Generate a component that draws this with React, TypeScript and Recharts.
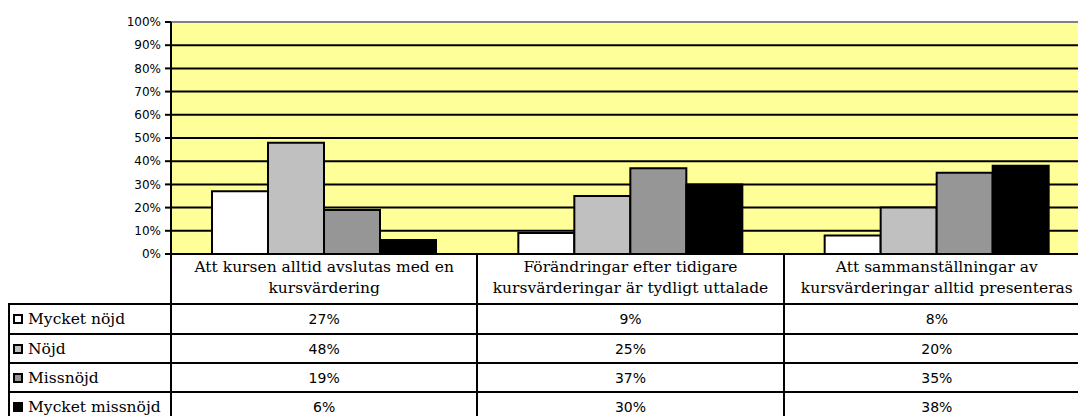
import React from 'react';
import { Bar, BarChart, CartesianGrid, ReferenceLine, XAxis, YAxis } from 'recharts';

// categories (x axis / table header), '\n' marks the line break in the header
const categories = [
  'Att kursen alltid avslutas med en\nkursvärdering',
  'Förändringar efter tidigare\nkursvärderingar är tydligt uttalade',
  'Att sammanställningar av\nkursvärderingar alltid presenteras',
];

// series values in percent
const mycketNojd = [27, 9, 8];
const nojd = [48, 25, 20];
const missnojd = [19, 37, 35];
const mycketMissnojd = [6, 30, 38];

const yTicks = [0, 10, 20, 30, 40, 50, 60, 70, 80, 90, 100];

const series = [
  { key: 'mycketNojd', name: 'Mycket nöjd', values: mycketNojd, color: '#FFFFFF' },
  { key: 'nojd', name: 'Nöjd', values: nojd, color: '#C0C0C0' },
  { key: 'missnojd', name: 'Missnöjd', values: missnojd, color: '#969696' },
  { key: 'mycketMissnojd', name: 'Mycket missnöjd', values: mycketMissnojd, color: '#000000' },
];

const data = categories.map((name, i) => {
  const row: Record<string, string | number> = { name };
  series.forEach((s) => {
    row[s.key] = s.values[i];
  });
  return row;
});

const AXIS_W = 163;
const PLOT_W = 919;
const COL_W = PLOT_W / categories.length;
const rowTops = [246, 296, 326, 355, 384, 414];

const serif = '"DejaVu Serif", serif';
const sans = '"DejaVu Sans", sans-serif';

const cell = (left: number, top: number, width: number, height: number): React.CSSProperties => ({
  position: 'absolute',
  left: left - 1,
  top: top - 1,
  width: width + 2,
  height: height + 2,
  boxSizing: 'border-box',
  border: '2px solid #000',
  background: '#fff',
  display: 'flex',
  alignItems: 'center',
});

const App = () => {
  return (
    // fixed frame the size of the window, so nothing can scroll
    <div
      style={{
        position: 'fixed',
        left: 0,
        top: 0,
        width: 1078,
        height: 416,
        overflow: 'hidden',
        background: '#fff',
      }}
    >
      <div style={{ position: 'absolute', left: 8, top: 8, width: AXIS_W + PLOT_W, height: 430 }}>
        <BarChart
          width={AXIS_W + PLOT_W}
          height={262}
          data={data}
          margin={{ top: 14, right: 0, bottom: 16, left: 0 }}
          barGap={0}
          barCategoryGap={41}
        >
          <CartesianGrid vertical={false} stroke="#000" strokeWidth={2} fill="#FFFF99" fillOpacity={1} />
          <ReferenceLine y={100} stroke="#808080" strokeWidth={2} />
          <XAxis dataKey="name" hide />
          <YAxis
            width={AXIS_W}
            domain={[0, 100]}
            ticks={yTicks}
            interval={0}
            tickFormatter={(v) => `${v}%`}
            tick={{ fontSize: 12, fontFamily: sans, fill: '#000' }}
            tickSize={6}
            tickMargin={4}
            tickLine={{ stroke: '#000', strokeWidth: 2 }}
            axisLine={{ stroke: '#000', strokeWidth: 2 }}
          />
          {series.map((s) => (
            <Bar key={s.key} dataKey={s.key} fill={s.color} stroke="#000" strokeWidth={2} isAnimationActive={false} />
          ))}
        </BarChart>

        {/* data table under the plot */}
        {categories.map((c, i) => (
          <div
            key={c}
            style={{
              ...cell(AXIS_W + i * COL_W, rowTops[0], COL_W, rowTops[1] - rowTops[0]),
              justifyContent: 'center',
              alignItems: 'flex-start',
              paddingTop: 2,
              fontFamily: serif,
              fontSize: 15.5,
              lineHeight: '21px',
              textAlign: 'center',
              whiteSpace: 'pre',
            }}
          >
            {c}
          </div>
        ))}
        {series.map((s, r) => (
          <React.Fragment key={s.key}>
            <div
              style={{
                ...cell(1, rowTops[r + 1], AXIS_W - 1, rowTops[r + 2] - rowTops[r + 1]),
                fontFamily: serif,
                fontSize: 15.5,
                paddingLeft: 3,
                whiteSpace: 'nowrap',
              }}
            >
              <span
                style={{
                  display: 'inline-block',
                  width: 10,
                  height: 10,
                  boxSizing: 'border-box',
                  border: '2px solid #000',
                  background: s.color,
                  marginRight: 5,
                }}
              />
              {s.name}
            </div>
            {s.values.map((v, i) => (
              <div
                key={i}
                style={{
                  ...cell(AXIS_W + i * COL_W, rowTops[r + 1], COL_W, rowTops[r + 2] - rowTops[r + 1]),
                  justifyContent: 'center',
                  fontFamily: sans,
                  fontSize: 14,
                }}
              >
                {v}%
              </div>
            ))}
          </React.Fragment>
        ))}
      </div>
    </div>
  );
};

export default App;
